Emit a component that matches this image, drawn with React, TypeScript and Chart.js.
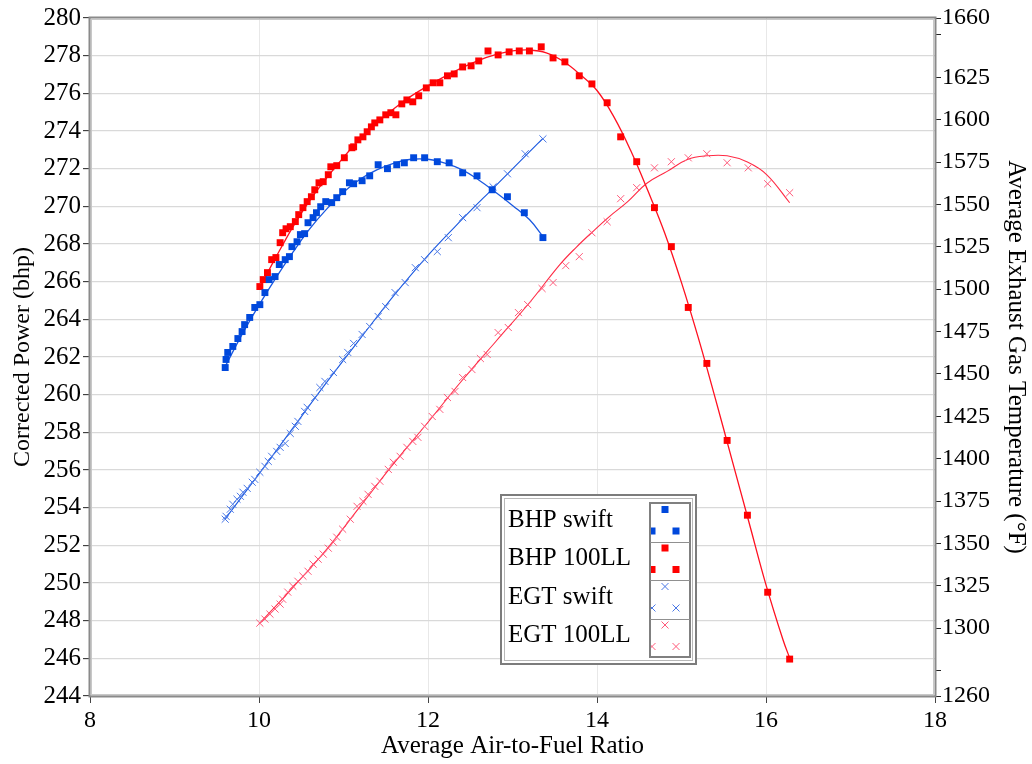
import React, { useEffect, useRef } from 'react';
import { Chart, registerables } from 'chart.js';

Chart.register(...registerables);

// ---------- data ----------
const xTickValues = [8, 10, 12, 14, 16, 18];
const leftTickValues = [244, 246, 248, 250, 252, 254, 256, 258, 260, 262, 264, 266, 268, 270, 272, 274, 276, 278, 280];
const rightTickValues = [1260, 1275, 1300, 1325, 1350, 1375, 1400, 1425, 1450, 1475, 1500, 1525, 1550, 1575, 1600, 1625, 1650, 1660];
const rightUnlabeled = [1275, 1650];

const legendLabels = ['BHP swift', 'BHP 100LL', 'EGT swift', 'EGT 100LL'];

const bhpSwiftAfr = [9.60, 9.61, 9.63, 9.69, 9.75, 9.80, 9.83, 9.89, 9.95, 10.01, 10.07, 10.12, 10.19, 10.24, 10.31, 10.36, 10.39, 10.45, 10.49, 10.54, 10.58, 10.64, 10.68, 10.73, 10.79, 10.86, 10.92, 10.99, 11.07, 11.12, 11.22, 11.31, 11.41, 11.52, 11.63, 11.72, 11.83, 11.96, 12.11, 12.25, 12.41, 12.58, 12.76, 12.94, 13.14, 13.36];
const bhpSwiftPower = [261.44, 261.87, 262.24, 262.56, 262.98, 263.35, 263.72, 264.10, 264.63, 264.78, 265.42, 266.11, 266.27, 266.91, 267.17, 267.33, 267.86, 268.12, 268.50, 268.55, 269.13, 269.40, 269.66, 269.98, 270.25, 270.20, 270.46, 270.78, 271.25, 271.20, 271.36, 271.62, 272.21, 272.00, 272.21, 272.31, 272.58, 272.58, 272.37, 272.31, 271.78, 271.62, 270.88, 270.51, 269.66, 268.34];

const bhp100Afr = [10.01, 10.05, 10.10, 10.15, 10.20, 10.25, 10.28, 10.32, 10.37, 10.43, 10.47, 10.52, 10.57, 10.62, 10.66, 10.71, 10.76, 10.82, 10.85, 10.92, 11.01, 11.10, 11.12, 11.17, 11.23, 11.28, 11.33, 11.37, 11.43, 11.50, 11.56, 11.62, 11.69, 11.75, 11.82, 11.89, 11.98, 12.06, 12.14, 12.23, 12.31, 12.41, 12.51, 12.60, 12.71, 12.83, 12.96, 13.08, 13.20, 13.34, 13.48, 13.62, 13.79, 13.94, 14.12, 14.28, 14.47, 14.68, 14.88, 15.08, 15.30, 15.54, 15.78, 16.02, 16.28];
const bhp100Power = [265.74, 266.11, 266.48, 267.17, 267.28, 268.07, 268.60, 268.81, 268.92, 269.19, 269.56, 269.93, 270.25, 270.51, 270.88, 271.25, 271.31, 271.68, 272.10, 272.16, 272.58, 273.11, 273.16, 273.53, 273.69, 273.96, 274.22, 274.43, 274.59, 274.86, 274.97, 274.86, 275.44, 275.65, 275.55, 275.87, 276.29, 276.56, 276.56, 276.93, 277.03, 277.40, 277.46, 277.72, 278.25, 278.04, 278.20, 278.25, 278.25, 278.47, 277.88, 277.67, 276.93, 276.50, 275.50, 273.69, 272.37, 269.93, 267.86, 264.63, 261.66, 257.57, 253.60, 249.51, 245.96];

const egtSwiftAfr = [9.60, 9.61, 9.66, 9.69, 9.74, 9.78, 9.81, 9.86, 9.92, 9.95, 10.01, 10.07, 10.11, 10.15, 10.21, 10.25, 10.31, 10.37, 10.43, 10.46, 10.54, 10.57, 10.66, 10.72, 10.78, 10.88, 10.99, 11.05, 11.12, 11.22, 11.31, 11.41, 11.50, 11.61, 11.73, 11.85, 11.96, 12.11, 12.24, 12.41, 12.58, 12.77, 12.94, 13.15, 13.36];
const egtSwiftTemp = [1364.3, 1366.0, 1370.2, 1373.1, 1376.1, 1377.8, 1380.2, 1382.5, 1386.1, 1387.8, 1392.0, 1395.5, 1398.4, 1401.4, 1404.3, 1406.7, 1409.0, 1414.9, 1419.1, 1422.0, 1427.9, 1430.3, 1436.1, 1442.0, 1445.6, 1450.9, 1458.5, 1462.7, 1468.0, 1473.3, 1478.0, 1483.9, 1489.7, 1498.0, 1503.9, 1512.7, 1517.4, 1522.2, 1530.4, 1542.2, 1548.1, 1560.4, 1568.1, 1579.9, 1588.7];

const egt100Afr = [10.01, 10.07, 10.13, 10.19, 10.25, 10.28, 10.34, 10.40, 10.46, 10.52, 10.58, 10.64, 10.70, 10.76, 10.82, 10.88, 10.92, 10.99, 11.08, 11.16, 11.23, 11.29, 11.37, 11.43, 11.53, 11.59, 11.67, 11.75, 11.82, 11.88, 11.96, 12.05, 12.14, 12.23, 12.32, 12.41, 12.52, 12.62, 12.70, 12.83, 12.95, 13.07, 13.18, 13.35, 13.48, 13.63, 13.79, 13.94, 14.12, 14.28, 14.47, 14.68, 14.88, 15.08, 15.30, 15.54, 15.79, 16.02, 16.28];
const egt100Temp = [1303.0, 1305.4, 1308.3, 1311.3, 1314.2, 1317.1, 1321.3, 1324.8, 1327.7, 1330.7, 1333.6, 1337.8, 1340.7, 1343.7, 1347.2, 1350.7, 1353.7, 1358.4, 1364.3, 1371.9, 1374.9, 1379.0, 1383.7, 1386.7, 1393.7, 1397.9, 1401.4, 1406.7, 1410.2, 1412.6, 1419.1, 1424.9, 1429.1, 1436.1, 1439.7, 1447.9, 1452.6, 1459.1, 1461.5, 1474.4, 1477.4, 1486.2, 1490.9, 1500.4, 1503.9, 1513.9, 1519.2, 1533.3, 1539.8, 1553.4, 1559.9, 1571.6, 1575.2, 1577.5, 1579.9, 1574.6, 1571.6, 1562.2, 1556.9];

// trend curves, read along the drawn lines of the reference
const bhpSwiftCurveAfr = [9.6, 9.8, 10.0, 10.2, 10.4, 10.6, 10.8, 11.0, 11.2, 11.4, 11.6, 11.8, 12.0, 12.2, 12.4, 12.6, 12.8, 13.0, 13.2, 13.36];
const bhpSwiftCurvePower = [261.5, 263.2, 264.75, 266.2, 267.55, 268.8, 269.85, 270.75, 271.45, 271.95, 272.3, 272.5, 272.5, 272.3, 271.95, 271.4, 270.75, 270.05, 269.3, 268.4];

const bhp100CurveAfr = [10.0, 10.2, 10.4, 10.6, 10.8, 11.0, 11.2, 11.4, 11.6, 11.8, 12.0, 12.2, 12.4, 12.6, 12.8, 13.0, 13.2, 13.4, 13.6, 13.8, 14.0, 14.2, 14.4, 14.6, 14.8, 15.0, 15.2, 15.4, 15.6, 15.8, 16.0, 16.2, 16.29];
const bhp100CurvePower = [265.6, 267.3, 268.9, 270.3, 271.5, 272.6, 273.6, 274.45, 275.2, 275.85, 276.4, 276.9, 277.35, 277.75, 278.05, 278.25, 278.3, 278.15, 277.7, 277.0, 276.15, 274.75, 272.95, 270.85, 268.6, 265.95, 263.0, 259.8, 256.5, 253.2, 249.9, 247.0, 245.9];

const egtSwiftCurveAfr = [9.6, 10.0, 10.4, 10.8, 11.2, 11.6, 12.0, 12.4, 12.8, 13.0, 13.2, 13.36];
const egtSwiftCurveTemp = [1364.5, 1391, 1418, 1445, 1471, 1496.5, 1520, 1541, 1561, 1571, 1581, 1589];

const egt100CurveAfr = [10.0, 10.4, 10.8, 11.2, 11.6, 12.0, 12.4, 12.8, 13.2, 13.56, 13.76, 13.95, 14.15, 14.36, 14.59, 14.83, 15.07, 15.3, 15.54, 15.78, 16.01, 16.28];
const egt100CurveTemp = [1302.5, 1324, 1346.5, 1372, 1397.5, 1421.5, 1446, 1469, 1492, 1514.5, 1525, 1534, 1543, 1551.5, 1562.5, 1569.5, 1576.5, 1578.7, 1578.7, 1575, 1567.5, 1551];

// ---------- styles ----------
const SERIF = "'Liberation Serif', 'Times New Roman', serif";
const BLUE_SQ = '#0048dc';
const RED_SQ = '#ff0000';
const BLUE_X = '#4a78e6';
const RED_X = '#ff5a7a';
const BLUE_LINE = '#1a58e0';
const RED_LINE = '#ff1020';
const EGT_RED_LINE = '#ff2a44';

const pts = (xs: number[], ys: number[]) => xs.map((x, i) => ({ x, y: ys[i] }));

const framePlugin = {
  id: 'frame',
  afterDatasetsDraw(chart: any) {
    const { ctx, chartArea: a } = chart;
    ctx.save();
    ctx.strokeStyle = '#8a8a8a';
    ctx.lineWidth = 2;
    ctx.strokeRect(a.left - 0.5, a.top - 0.5, a.right - a.left + 1, a.bottom - a.top + 1);
    ctx.strokeStyle = '#c8c8c8';
    ctx.lineWidth = 1;
    ctx.strokeRect(a.left + 1.5, a.top + 1.5, a.right - a.left - 3, a.bottom - a.top - 3);
    ctx.restore();
  },
};

function drawMarker(ctx: CanvasRenderingContext2D, kind: string, color: string, x: number, y: number) {
  if (kind === 'rect') {
    ctx.fillStyle = color;
    ctx.fillRect(x - 3.5, y - 3.5, 7, 7);
  } else {
    ctx.strokeStyle = color;
    ctx.lineWidth = 1;
    ctx.beginPath();
    ctx.moveTo(x - 3.5, y - 3.5);
    ctx.lineTo(x + 3.5, y + 3.5);
    ctx.moveTo(x + 3.5, y - 3.5);
    ctx.lineTo(x - 3.5, y + 3.5);
    ctx.stroke();
  }
}

const legendPlugin = {
  id: 'boxLegend',
  afterDraw(chart: any) {
    const ctx: CanvasRenderingContext2D = chart.ctx;
    const L = 500, T = 494, W = 197, H = 171;
    ctx.save();
    ctx.fillStyle = '#ffffff';
    ctx.fillRect(L, T, W, H);
    ctx.strokeStyle = '#7c7c7c';
    ctx.lineWidth = 2;
    ctx.strokeRect(L + 1, T + 1, W - 2, H - 2);
    ctx.strokeStyle = '#b8b8b8';
    ctx.lineWidth = 1;
    ctx.strokeRect(L + 4.5, T + 4.5, W - 9, H - 9);

    const cL = 650, cT = 503, cW = 40, cH = 154;
    const rowH = cH / 4;
    const kinds = ['rect', 'rect', 'cross', 'cross'];
    const colors = [BLUE_SQ, RED_SQ, BLUE_X, RED_X];
    ctx.save();
    ctx.beginPath();
    ctx.rect(cL, cT, cW, cH);
    ctx.clip();
    for (let i = 0; i < 4; i++) {
      const top = cT + rowH * i;
      drawMarker(ctx, kinds[i], colors[i], cL + 15, top + 6.5);
      drawMarker(ctx, kinds[i], colors[i], cL + 2, top + 28);
      drawMarker(ctx, kinds[i], colors[i], cL + 26, top + 28);
    }
    ctx.restore();
    ctx.strokeStyle = '#808080';
    ctx.lineWidth = 2;
    ctx.strokeRect(cL, cT, cW, cH);
    ctx.lineWidth = 1;
    ctx.strokeStyle = '#909090';
    for (let i = 1; i < 4; i++) {
      const y = Math.round(cT + rowH * i) + 0.5;
      ctx.beginPath();
      ctx.moveTo(cL, y);
      ctx.lineTo(cL + cW, y);
      ctx.stroke();
    }
    ctx.fillStyle = '#000';
    ctx.font = `25px ${SERIF}`;
    ctx.textBaseline = 'middle';
    ctx.textAlign = 'left';
    for (let i = 0; i < 4; i++) {
      ctx.fillText(legendLabels[i], 508, cT + rowH * i + 17);
    }
    ctx.restore();
  },
};

export default function App() {
  const ref = useRef<HTMLCanvasElement>(null);

  useEffect(() => {
    if (!ref.current) return;
    const tickFont = { family: SERIF, size: 24 };
    const leftTickFont = { family: SERIF, size: 25 };
    const chart = new Chart(ref.current, {
      type: 'scatter',
      data: {
        datasets: [
          { label: 'BHP swift', data: pts(bhpSwiftAfr, bhpSwiftPower), yAxisID: 'y', pointStyle: 'rect', pointRadius: 4.9, backgroundColor: BLUE_SQ, borderColor: BLUE_SQ, borderWidth: 0, showLine: false },
          { label: 'BHP 100LL', data: pts(bhp100Afr, bhp100Power), yAxisID: 'y', pointStyle: 'rect', pointRadius: 4.9, backgroundColor: RED_SQ, borderColor: RED_SQ, borderWidth: 0, showLine: false },
          { label: 'EGT swift', data: pts(egtSwiftAfr, egtSwiftTemp), yAxisID: 'y1', pointStyle: 'crossRot', pointRadius: 5, backgroundColor: BLUE_X, borderColor: BLUE_X, pointBorderWidth: 1, showLine: false },
          { label: 'EGT 100LL', data: pts(egt100Afr, egt100Temp), yAxisID: 'y1', pointStyle: 'crossRot', pointRadius: 5, backgroundColor: RED_X, borderColor: RED_X, pointBorderWidth: 1, showLine: false },
          { label: 'BHP swift fit', data: pts(bhpSwiftCurveAfr, bhpSwiftCurvePower), yAxisID: 'y', showLine: true, pointRadius: 0, borderColor: BLUE_LINE, borderWidth: 1.3, tension: 0.4 },
          { label: 'BHP 100LL fit', data: pts(bhp100CurveAfr, bhp100CurvePower), yAxisID: 'y', showLine: true, pointRadius: 0, borderColor: RED_LINE, borderWidth: 1.3, tension: 0.4 },
          { label: 'EGT swift fit', data: pts(egtSwiftCurveAfr, egtSwiftCurveTemp), yAxisID: 'y1', showLine: true, pointRadius: 0, borderColor: BLUE_LINE, borderWidth: 1.1, tension: 0.4 },
          { label: 'EGT 100LL fit', data: pts(egt100CurveAfr, egt100CurveTemp), yAxisID: 'y1', showLine: true, pointRadius: 0, borderColor: EGT_RED_LINE, borderWidth: 1.1, tension: 0.4 },
        ] as any,
      },
      options: {
        responsive: false,
        animation: false,
        devicePixelRatio: 1,
        layout: { padding: { top: 18, left: 0, right: 0, bottom: 0 } },
        plugins: { legend: { display: false }, tooltip: { enabled: false } },
        scales: {
          x: {
            type: 'linear',
            min: 8,
            max: 18,
            afterBuildTicks: (axis: any) => { axis.ticks = xTickValues.map((v) => ({ value: v })); },
            afterFit: (s: any) => { s.height = 68; },
            ticks: { font: tickFont, color: '#000', padding: 3, maxRotation: 0, autoSkip: false },
            grid: { color: '#e8e8e8', lineWidth: 1, tickColor: '#444', tickLength: 7, tickWidth: 1 },
            border: { display: false },
            title: { display: true, text: 'Average Air-to-Fuel Ratio', font: { family: SERIF, size: 25 }, color: '#000', padding: { top: 0, bottom: 3 } },
          },
          y: {
            type: 'linear',
            position: 'left',
            min: 244,
            max: 280,
            afterBuildTicks: (axis: any) => { axis.ticks = leftTickValues.map((v) => ({ value: v })); },
            afterFit: (s: any) => { s.width = 90; },
            ticks: { font: leftTickFont, color: '#000', padding: 2, autoSkip: false },
            grid: { color: '#d9d9d9', lineWidth: 1.3, tickColor: '#222', tickLength: 7, tickWidth: 1 },
            border: { display: false },
            title: { display: true, text: 'Corrected Power (bhp)', font: { family: SERIF, size: 24 }, color: '#000', padding: { top: 8, bottom: 0 } },
          },
          y1: {
            type: 'linear',
            position: 'right',
            min: 1260,
            max: 1660,
            afterBuildTicks: (axis: any) => { axis.ticks = rightTickValues.map((v) => ({ value: v })); },
            afterFit: (s: any) => { s.width = 97; },
            ticks: {
              font: tickFont,
              color: '#000',
              padding: 1,
              autoSkip: false,
              callback: (v: any) => (rightUnlabeled.includes(Number(v)) ? '' : String(v)),
            },
            grid: { drawOnChartArea: false, color: '#222', tickColor: '#222', tickLength: 6, tickWidth: 1 },
            border: { display: false },
            title: { display: true, text: 'Average Exhaust Gas Temperature (°F)', font: { family: SERIF, size: 25 }, color: '#000', padding: { top: 1, bottom: 0 } },
          },
        },
      } as any,
      plugins: [framePlugin, legendPlugin],
    });
    return () => chart.destroy();
  }, []);

  return (
    <div style={{ position: 'absolute', left: 0, top: 0, width: 1032, height: 764, background: '#fff' }}>
      <canvas ref={ref} width={1032} height={764} style={{ display: 'block' }} />
    </div>
  );
}
